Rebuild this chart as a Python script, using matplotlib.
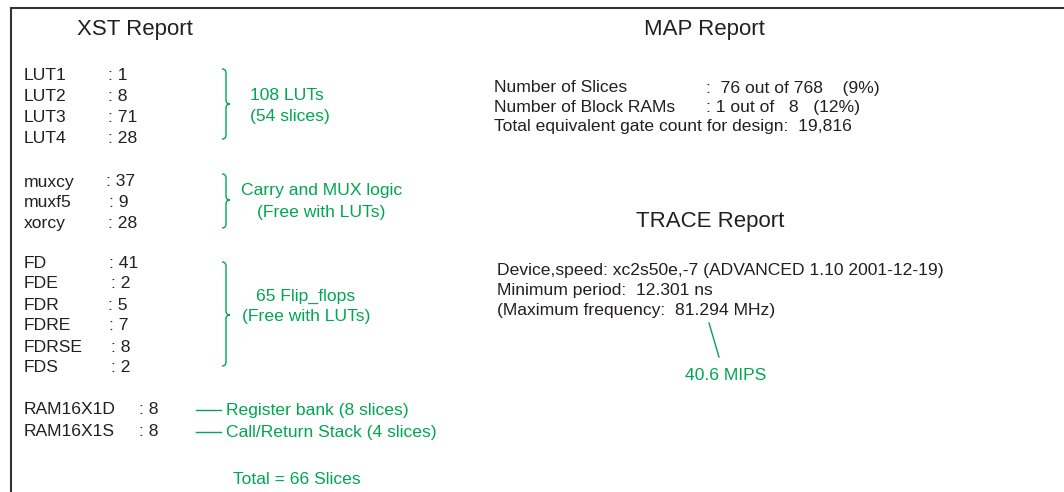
import matplotlib.pyplot as plt
from matplotlib.path import Path
from matplotlib.patches import PathPatch

plt.rcParams['font.family'] = ['Liberation Sans', 'DejaVu Sans']

# XST report contents
lut_names = ["LUT1", "LUT2", "LUT3", "LUT4"]
lut_counts = [1, 8, 71, 28]
mux_names = ["muxcy", "muxf5", "xorcy"]
mux_counts = [37, 9, 28]
ff_names = ["FD", "FDE", "FDR", "FDRE", "FDRSE", "FDS"]
ff_counts = [41, 2, 5, 7, 8, 2]
ram_names = ["RAM16X1D", "RAM16X1S"]
ram_counts = [8, 8]
ram_notes = ["Register bank (8 slices)", "Call/Return Stack (4 slices)"]
total_slices = 66

# MAP report
map_lines = [
    ("Number of Slices", ":  76 out of 768    (9%)"),
    ("Number of Block RAMs", ": 1 out of   8   (12%)"),
]
gate_count = "19,816"

# TRACE report
trace_lines = [
    "Device,speed: xc2s50e,-7 (ADVANCED 1.10 2001-12-19)",
    "Minimum period:  12.301 ns",
    "(Maximum frequency:  81.294 MHz)",
]
mips = 40.6

dark = '#231f20'
green = '#00a651'
fs = 12.6
tfs = 16


def brace(ax, x, y0, y1, ymid):
    # right-facing curly brace, x = vertical stroke
    h = 4
    verts = [(x - 4, y0), (x, y0), (x, y0 + h), (x, ymid - h),
             (x, ymid), (x + 4, ymid),
             (x, ymid), (x, ymid + h), (x, y1 - h),
             (x, y1), (x - 4, y1)]
    codes = [Path.MOVETO, Path.CURVE3, Path.CURVE3, Path.LINETO,
             Path.CURVE3, Path.CURVE3,
             Path.CURVE3, Path.CURVE3, Path.LINETO,
             Path.CURVE3, Path.CURVE3]
    ax.add_patch(PathPatch(Path(verts, codes), fill=False, ec=green, lw=1.0))


fig = plt.figure(figsize=(10.64, 4.92), dpi=100)
ax = fig.add_axes([0, 0, 1, 1])
ax.set_xlim(0, 1064)
ax.set_ylim(492, 0)
ax.axis('off')

# frame (top and left only)
ax.plot([11, 1064], [7.5, 7.5], color='#333333', lw=1.5)
ax.plot([11, 11], [7.5, 492], color='#333333', lw=1.5)

ax.text(135, 30, "XST Report", fontsize=tfs, color=dark, ha='center', va='center')
ax.text(704, 30, "MAP Report", fontsize=tfs, color=dark, ha='center', va='center')
ax.text(710, 221, "TRACE Report", fontsize=tfs, color=dark, ha='center', va='center')


def block(names, counts, y0, step, colon_x):
    for i, (n, c) in enumerate(zip(names, counts)):
        y = y0 + i * step
        ax.text(24, y, n, fontsize=fs, color=dark, va='center')
        ax.text(colon_x[i], y, ": %d" % c, fontsize=fs, color=dark, va='center')


block(lut_names, lut_counts, 75, 21.2, [108, 108, 108, 108])
block(mux_names, mux_counts, 182, 20.7, [106, 109, 108])
block(ff_names, ff_counts, 263, 21.0, [109, 111, 108, 109, 111, 111])
block(ram_names, ram_counts, 410, 22, [139, 139])

brace(ax, 226, 69, 139, 104)
ax.text(287, 96, "%d LUTs" % sum(lut_counts), fontsize=fs, color=green, ha='center', va='center')
ax.text(290, 117, "(%d slices)" % (sum(lut_counts) // 2), fontsize=fs, color=green, ha='center', va='center')

brace(ax, 226, 174, 228, 200)
ax.text(322, 191, "Carry and MUX logic", fontsize=fs, color=green, ha='center', va='center')
ax.text(321, 212, "(Free with LUTs)", fontsize=fs, color=green, ha='center', va='center')

brace(ax, 226, 262, 366, 315)
ax.text(306, 296, "%d Flip_flops" % sum(ff_counts), fontsize=fs, color=green, ha='center', va='center')
ax.text(306, 317, "(Free with LUTs)", fontsize=fs, color=green, ha='center', va='center')

for i, note in enumerate(ram_notes):
    y = 410 + i * 22
    ax.plot([196, 221], [y, y], color=green, lw=1)
    ax.text(226, y, note, fontsize=fs, color=green, va='center')

ax.text(297, 480, "Total = %d Slices" % total_slices, fontsize=fs, color=green, ha='center', va='center')

# MAP block
for i, (lab, val) in enumerate(map_lines):
    y = 88 + i * 19.5
    ax.text(494, y, lab, fontsize=fs, color=dark, va='center')
    ax.text(706, y, val, fontsize=fs, color=dark, va='center')
ax.text(494, 127, "Total equivalent gate count for design:  " + gate_count,
        fontsize=fs, color=dark, va='center')

# TRACE block
for i, line in enumerate(trace_lines):
    ax.text(497, 270 + i * 20.5, line, fontsize=fs, color=dark, va='center')

ax.plot([709, 719], [323, 357], color=green, lw=1)
ax.text(726, 376, "%.1f MIPS" % mips, fontsize=fs, color=green, ha='center', va='center')

fig.savefig("out.png", dpi=100, facecolor='white')
